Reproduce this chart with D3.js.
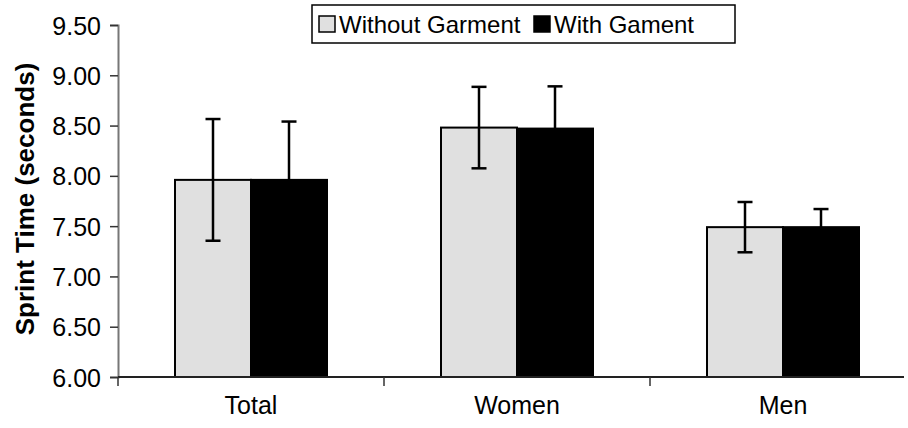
<!DOCTYPE html>
<html>
<head>
<meta charset="utf-8">
<script src="https://cdn.jsdelivr.net/npm/d3@7"></script>
<style>
  body { margin: 0; background: #fff; }
  text { font-family: "Liberation Sans", Arial, sans-serif; fill: #000; }
</style>
</head>
<body>
<div id="chart"></div>
<script>
// data
const categories = ["Total", "Women", "Men"];
const series = ["Without Garment", "With Gament"];
const withoutVals = [7.96, 8.48, 7.49];
const withVals = [7.96, 8.47, 7.49];
const withoutErr = [0.605, 0.405, 0.25];
const withErr = [0.58, 0.42, 0.18];
const yTicks = [6.0, 6.5, 7.0, 7.5, 8.0, 8.5, 9.0, 9.5];

const W = 908, H = 428;
const svg = d3.select("#chart").append("svg")
  .attr("width", W).attr("height", H);

const x0 = d3.scaleBand().domain(categories).range([118, 916]);
const x1 = d3.scaleBand().domain(series).range([57, 209]);
const y = d3.scaleLinear().domain([6, 9.5]).range([377, 25]);
const fills = { "Without Garment": "#e0e0e0", "With Gament": "#000" };

// y axis
const yAxis = svg.append("g").attr("transform", "translate(118,0)")
  .call(d3.axisLeft(y).tickValues(yTicks).tickFormat(d3.format(".2f")).tickSizeOuter(0).tickSize(8));
yAxis.select(".domain").attr("stroke", "#777").attr("stroke-width", 2);
yAxis.selectAll(".tick line").attr("stroke", "#333").attr("stroke-width", 1.5);
yAxis.selectAll(".tick text").attr("x", -17).attr("dy", "0.36em")
  .style("font-size", "25px");

// bars
const rows = categories.map((c, i) => [
  { cat: c, s: series[0], v: withoutVals[i], e: withoutErr[i] },
  { cat: c, s: series[1], v: withVals[i], e: withErr[i] }
]);
const groups = svg.append("g").selectAll("g").data(rows).join("g")
  .attr("transform", d => `translate(${x0(d[0].cat)},0)`);
groups.selectAll("rect").data(d => d).join("rect")
  .attr("x", d => x1(d.s))
  .attr("y", d => y(d.v))
  .attr("width", x1.bandwidth())
  .attr("height", d => y(6) - y(d.v))
  .attr("fill", d => fills[d.s])
  .attr("stroke", "#000")
  .attr("stroke-width", 2);

// error bars
const eb = groups.selectAll("g.err").data(d => d).join("g").attr("class", "err")
  .attr("stroke", "#000").attr("stroke-width", 2.5);
eb.append("line")
  .attr("x1", d => x1(d.s) + x1.bandwidth() / 2).attr("x2", d => x1(d.s) + x1.bandwidth() / 2)
  .attr("y1", d => y(d.v + d.e)).attr("y2", d => y(d.v - d.e));
eb.append("line")
  .attr("x1", d => x1(d.s) + x1.bandwidth() / 2 - 7.5).attr("x2", d => x1(d.s) + x1.bandwidth() / 2 + 7.5)
  .attr("y1", d => y(d.v + d.e)).attr("y2", d => y(d.v + d.e));
eb.append("line")
  .attr("x1", d => x1(d.s) + x1.bandwidth() / 2 - 7.5).attr("x2", d => x1(d.s) + x1.bandwidth() / 2 + 7.5)
  .attr("y1", d => y(d.v - d.e)).attr("y2", d => y(d.v - d.e));
// bring the black bars above the light-bar whiskers
groups.selectAll("rect").filter(d => d.s === series[1]).raise();
groups.selectAll("g.err").filter(d => d.s === series[1]).raise();

// x axis
const xAxis = svg.append("g").attr("transform", "translate(0,377)");
xAxis.append("line").attr("x1", 118).attr("x2", 904).attr("y1", 0).attr("y2", 0)
  .attr("stroke", "#222").attr("stroke-width", 2);
xAxis.selectAll("line.tk").data(categories).join("line").attr("class", "tk")
  .attr("x1", d => x0(d)).attr("x2", d => x0(d)).attr("y1", 0).attr("y2", 9)
  .attr("stroke", "#333").attr("stroke-width", 1.5);
xAxis.selectAll("text").data(categories).join("text")
  .attr("x", d => x0(d) + x0.bandwidth() / 2).attr("y", 37)
  .attr("text-anchor", "middle").style("font-size", "25px").text(d => d);

// y title
svg.append("text")
  .attr("transform", "translate(34,199) rotate(-90)")
  .attr("text-anchor", "middle")
  .style("font-size", "26px").style("font-weight", "bold")
  .text("Sprint Time (seconds)");

// legend
const lg = svg.append("g");
lg.append("rect").attr("x", 312).attr("y", 5).attr("width", 423).attr("height", 38)
  .attr("fill", "#fff").attr("stroke", "#000").attr("stroke-width", 1.5);
const legX = [319, 534];
series.forEach((s, i) => {
  lg.append("rect").attr("x", legX[i]).attr("y", 16).attr("width", 16).attr("height", 16)
    .attr("fill", fills[s]).attr("stroke", "#000").attr("stroke-width", 1.5);
  lg.append("text").attr("x", legX[i] + 20).attr("y", 33).style("font-size", "24px").text(s);
});
</script>
</body>
</html>
